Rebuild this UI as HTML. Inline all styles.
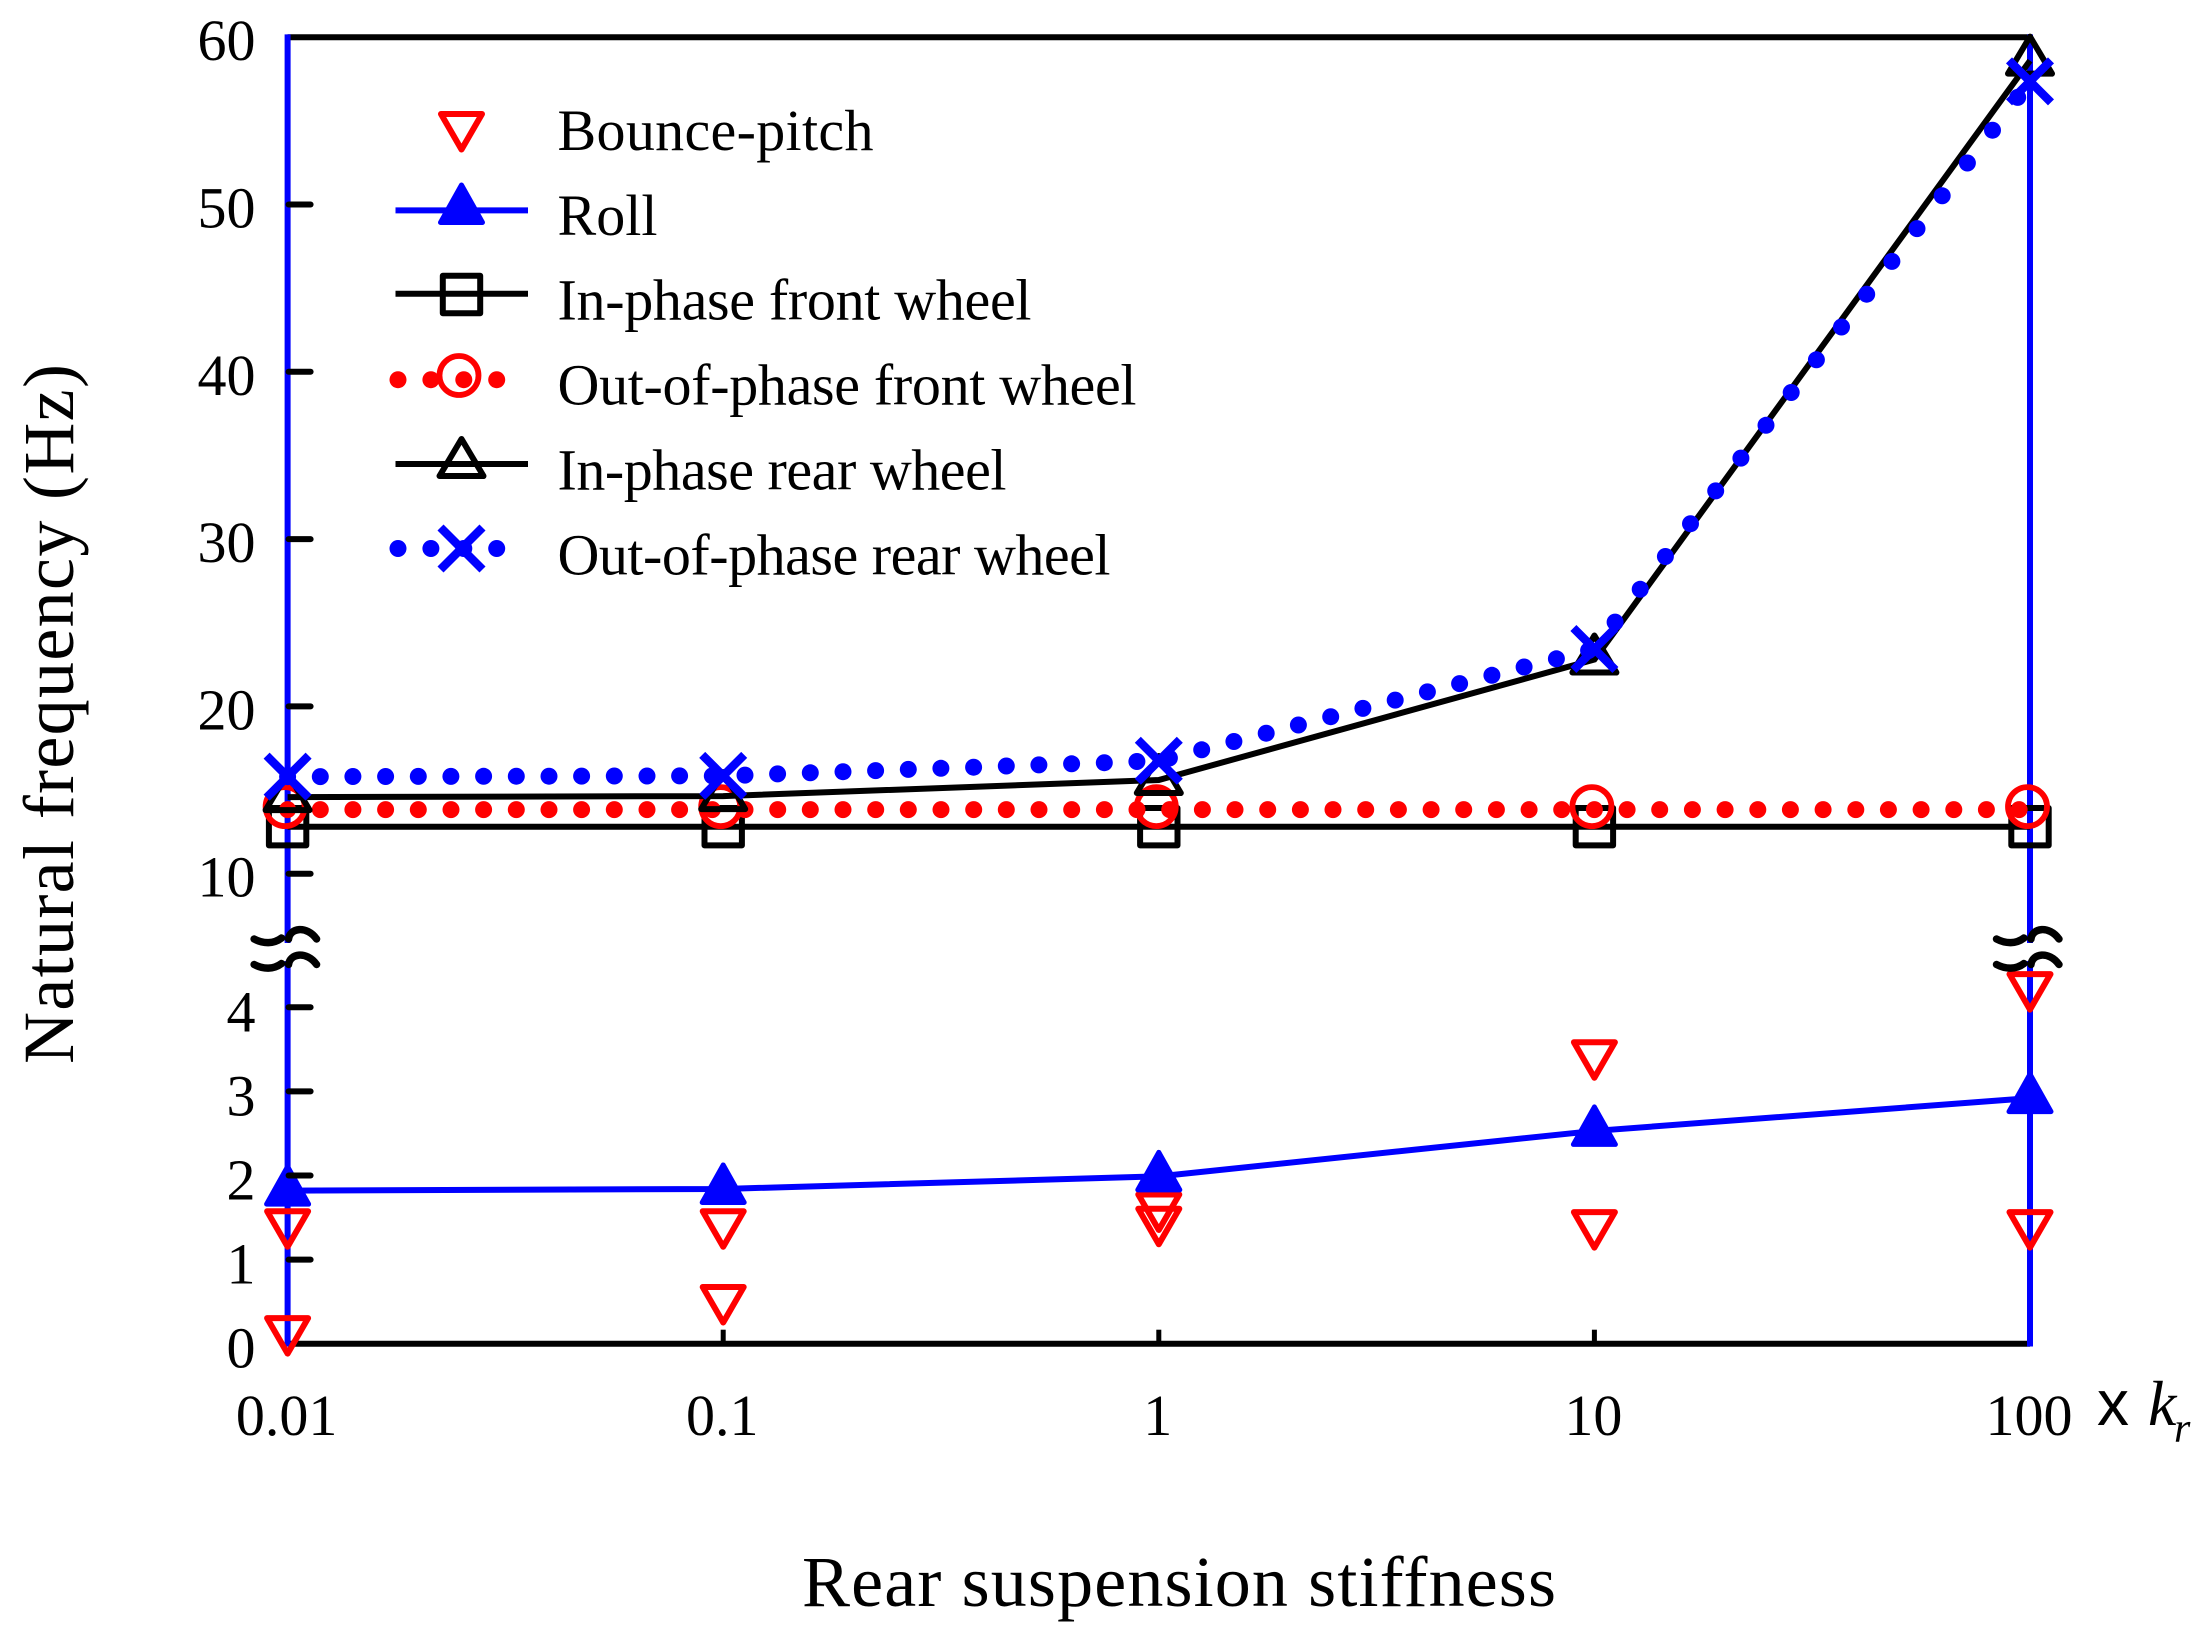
<!DOCTYPE html>
<html lang="en">
<head>
<meta charset="utf-8">
<title>Natural frequency vs rear suspension stiffness</title>
<style>
html,body{margin:0;padding:0;background:#fff;}
svg{display:block;}
text{font-family:"Liberation Serif","DejaVu Serif",serif;fill:#000;}
.tick{font-size:58px;}
.leg{font-size:58px;}
.title{font-size:72px;}
</style>
</head>
<body>
<svg id="chart" xmlns="http://www.w3.org/2000/svg" width="2202" height="1637" viewBox="0 0 2202 1637">
  <rect x="0" y="0" width="2202" height="1637" fill="#fff"/>
  <g id="frame"></g>
  <g id="series"></g>
  <g id="ticks"></g>
  <g id="legend">
    <text class="leg" x="557.5" y="150" textLength="316">Bounce-pitch</text>
    <text class="leg" x="557.5" y="235" textLength="100">Roll</text>
    <text class="leg" x="557.5" y="319.5" textLength="474">In-phase front wheel</text>
    <text class="leg" x="557.5" y="404.5" textLength="579">Out-of-phase front wheel</text>
    <text class="leg" x="557.5" y="489.5" textLength="449">In-phase rear wheel</text>
    <text class="leg" x="557.5" y="574.5" textLength="553">Out-of-phase rear wheel</text>
  </g>
  <text class="title" transform="translate(73,1064) rotate(-90)" textLength="700">Natural frequency (Hz)</text>
  <text class="title" x="802" y="1606" textLength="754">Rear suspension stiffness</text>
  <g>
    <text x="2097" y="1425" style="font-family:'Liberation Sans',sans-serif;font-size:64px;">x</text>
    <text x="2148" y="1425" style="font-size:64px;font-style:italic;">k</text>
    <text x="2174" y="1442" style="font-size:42px;font-style:italic;">r</text>
  </g>
</svg>
<script>
// Chart data
const categories = [0.01, 0.1, 1, 10, 100];
const xTickLabels = ['0.01', '0.1', '1', '10', '100'];
const yTickValues = [0, 1, 2, 3, 4, 10, 20, 30, 40, 50, 60];
const bounceLower = [0.15, 0.52, 1.45, 1.41, 1.41];
const bounceUpper = [1.42, 1.42, 1.62, 3.43, 4.24];
const roll = [1.82, 1.84, 1.99, 2.53, 2.92];
const inPhaseFront = [12.81, 12.81, 12.81, 12.81, 12.81];
const outPhaseFront = [13.83, 13.83, 13.83, 13.83, 13.83];
const inPhaseRear = [14.58, 14.64, 15.6, 22.8, 58.6];
const outPhaseRear = [15.8, 15.85, 16.75, 23.43, 57.36];

const NS = 'http://www.w3.org/2000/svg';
const BLUE = '#0000ff', RED = '#ff0000', BLACK = '#000000';
const LW = 6;
const DOT_STEP = 32.67;
const DOT_STRETCH = 1.574;

function xScale(v) {
  return 287.6 + Math.log10(v / 0.01) * 435.6;
}
function yScale(v) {
  if (v <= 5) return 1343.7 - v * 84.1;
  if (v >= 10) return 873.7 - (v - 10) * 16.73;
  return 923.2 + (873.7 - 923.2) * (v - 5) / 5;
}
function make(tag, attrs, parent) {
  const el = document.createElementNS(NS, tag);
  for (const k in attrs) el.setAttribute(k, attrs[k]);
  parent.appendChild(el);
  return el;
}
function linePath(values) {
  return values.map((v, i) => (i ? 'L' : 'M') + xScale(categories[i]) + ' ' + yScale(v)).join(' ');
}
// The source's dotted pattern is spaced in an anisotropic metric (vertical stretch),
// so dots are walked along the polyline with y compressed by DOT_STRETCH.
function dotPath(values) {
  let d = '';
  let carry = 0;
  for (let i = 0; i < values.length - 1; i++) {
    const x0 = xScale(categories[i]), y0 = yScale(values[i]);
    const x1 = xScale(categories[i + 1]), y1 = yScale(values[i + 1]);
    const len = Math.hypot(x1 - x0, (y1 - y0) / DOT_STRETCH);
    let s = carry;
    while (s <= len) {
      const t = s / len;
      d += 'M' + (x0 + (x1 - x0) * t).toFixed(1) + ' ' + (y0 + (y1 - y0) * t).toFixed(1) + 'h0';
      s += DOT_STEP;
    }
    carry = s - len;
  }
  return d;
}

// Marker drawers
function triDown(cx, cy, parent, name) {
  const el = make('path', {
    d: `M${cx - 20.5} ${cy - 13}H${cx + 20.5}L${cx} ${cy + 22.5}Z`,
    fill: 'none', stroke: RED, 'stroke-width': 6, 'stroke-linejoin': 'round'
  }, parent);
  
  
}
function triUpFilled(cx, cy, parent, name) {
  const el = make('path', {
    d: `M${cx} ${cy - 24}L${cx + 21} ${cy + 13.5}H${cx - 21}Z`,
    fill: BLUE, stroke: BLUE, 'stroke-width': 5, 'stroke-linejoin': 'round'
  }, parent);
  
  
}
function triUp(cx, cy, parent, name) {
  const el = make('path', {
    d: `M${cx} ${cy - 24}L${cx + 22} ${cy + 13}H${cx - 22}Z`,
    fill: 'none', stroke: BLACK, 'stroke-width': LW, 'stroke-linejoin': 'round'
  }, parent);
  
  
}
function square(cx, cy, parent, name) {
  const el = make('rect', {
    x: cx - 18.7, y: cy - 18.7, width: 37.4, height: 37.4,
    fill: 'none', stroke: BLACK, 'stroke-width': LW, 'stroke-linejoin': 'round'
  }, parent);
  
  
}
function circle(cx, cy, parent, name) {
  const el = make('circle', {
    cx: cx - 2.5, cy: cy - 3, r: 19.5,
    fill: 'none', stroke: RED, 'stroke-width': 5.8
  }, parent);
  
  
}
function cross(cx, cy, parent, name) {
  const el = make('path', {
    d: `M${cx - 21} ${cy - 21}L${cx + 21} ${cy + 21}M${cx + 21} ${cy - 21}L${cx - 21} ${cy + 21}`,
    fill: 'none', stroke: BLUE, 'stroke-width': 8.5
  }, parent);
  
  
}

// Frame
const frame = document.getElementById('frame');
const xL = xScale(categories[0]);
const xR = xScale(categories[categories.length - 1]);
const yT = yScale(60);
const yB = yScale(0);

const topAxis = make('line', {x1: xL, y1: yT, x2: xR, y2: yT, stroke: BLACK, 'stroke-width': LW}, frame);



const bottomAxis = make('line', {x1: xL, y1: yB, x2: xR, y2: yB, stroke: BLACK, 'stroke-width': LW}, frame);



const leftAxis = make('line', {x1: xL, y1: yT - 2.8, x2: xL, y2: yB + 2.8, stroke: BLUE, 'stroke-width': 6}, frame);



const rightAxis = make('line', {x1: xR, y1: yT - 2.8, x2: xR, y2: yB + 2.8, stroke: BLUE, 'stroke-width': 6}, frame);



// Ticks and tick labels
const ticks = document.getElementById('ticks');
yTickValues.forEach((v) => {
  const y = yScale(v);
  if (v !== 0 && v !== 60) {
    const t = make('line', {x1: xL + 1, y1: y, x2: xL + 23, y2: y, stroke: BLACK, 'stroke-width': LW, 'stroke-linecap': 'round'}, ticks);
    
    
  }
  const label = make('text', {x: 255.5, y: y + (v >= 10 ? 23 : 24), 'text-anchor': 'end', class: 'tick'}, ticks);
  label.textContent = String(v);
  
  
});
categories.forEach((c, i) => {
  const x = xScale(c);
  if (i > 0 && i < categories.length - 1) {
    const t = make('line', {x1: x, y1: yB, x2: x, y2: yB - 14, stroke: BLACK, 'stroke-width': 5}, ticks);
    
    
  }
  const label = make('text', {x: x - 1, y: 1435, 'text-anchor': 'middle', class: 'tick'}, ticks);
  label.textContent = xTickLabels[i];
  
  
});

// Axis break marks
function axisBreak(cx, name) {
  const g = make('g', {}, ticks);
  
  
  const gap = make('rect', {x: cx - 5, y: 943, width: 10, height: 18, fill: '#fff'}, g);
  
  
  [0, 25.5].forEach((dy, k) => {
    const y0 = 939 + dy;
    const p = make('path', {
      d: `M${cx - 33.5} ${y0}C${cx - 24} ${y0 + 5} ${cx - 14} ${y0 + 5} ${cx - 6} ${y0 - 1}` +
         `M${cx + 1} ${y0}C${cx + 2} ${y0 - 11} ${cx + 19} ${y0 - 14} ${cx + 29} ${y0}`,
      fill: 'none', stroke: BLACK, 'stroke-width': 7.4, 'stroke-linecap': 'round'
    }, g);
    
    
  });
}
axisBreak(xL, 'y-axis-break');
axisBreak(xR, 'right-axis-break');

// Series
const series = document.getElementById('series');

function seriesGroup(name) {
  const g = make('g', {}, series);
  
  
  return g;
}

const gFront = seriesGroup('series-in-phase-front-wheel');
const frontLine = make('path', {d: linePath(inPhaseFront), fill: 'none', stroke: BLACK, 'stroke-width': LW}, gFront);


inPhaseFront.forEach((v, i) => square(xScale(categories[i]), yScale(v), gFront, 'in-phase-front-marker-' + xTickLabels[i]));

const gBounce = seriesGroup('series-bounce-pitch');
bounceLower.forEach((v, i) => triDown(xScale(categories[i]), yScale(v), gBounce, 'bounce-pitch-lower-marker-' + xTickLabels[i]));
bounceUpper.forEach((v, i) => triDown(xScale(categories[i]), yScale(v), gBounce, 'bounce-pitch-upper-marker-' + xTickLabels[i]));

const gRoll = seriesGroup('series-roll');
const rollLine = make('path', {d: linePath(roll), fill: 'none', stroke: BLUE, 'stroke-width': 6}, gRoll);


roll.forEach((v, i) => triUpFilled(xScale(categories[i]), yScale(v), gRoll, 'roll-marker-' + xTickLabels[i]));

const gOutFront = seriesGroup('series-out-of-phase-front-wheel');
const outFrontLine = make('path', {d: dotPath(outPhaseFront), fill: 'none', stroke: RED, 'stroke-width': 17, 'stroke-linecap': 'round'}, gOutFront);


outPhaseFront.forEach((v, i) => circle(xScale(categories[i]), yScale(v), gOutFront, 'out-of-phase-front-marker-' + xTickLabels[i]));

const gRear = seriesGroup('series-in-phase-rear-wheel');
const rearLine = make('path', {d: linePath(inPhaseRear), fill: 'none', stroke: BLACK, 'stroke-width': LW}, gRear);


inPhaseRear.forEach((v, i) => triUp(xScale(categories[i]), yScale(v), gRear, 'in-phase-rear-marker-' + xTickLabels[i]));

const gOutRear = seriesGroup('series-out-of-phase-rear-wheel');
const outRearLine = make('path', {d: dotPath(outPhaseRear), fill: 'none', stroke: BLUE, 'stroke-width': 17, 'stroke-linecap': 'round'}, gOutRear);


outPhaseRear.forEach((v, i) => cross(xScale(categories[i]), yScale(v), gOutRear, 'out-of-phase-rear-marker-' + xTickLabels[i]));

// Legend keys
const legend = document.getElementById('legend');
const keyX = 461.5;

function keyLine(y, color, name) {
  const l = make('line', {x1: 395.5, y1: y, x2: 528, y2: y, stroke: color, 'stroke-width': LW}, legend);
  
  
}
function keyDots(y, color, name) {
  const l = make('line', {x1: 398, y1: y, x2: 497, y2: y, stroke: color, 'stroke-width': 17, 'stroke-linecap': 'round', 'stroke-dasharray': '0 32.9'}, legend);
  
  
}
triDown(keyX, 127, legend, 'legend-key-bounce-pitch');
keyLine(210.4, BLUE, 'legend-line-roll');
triUpFilled(keyX, 209, legend, 'legend-key-roll');
keyLine(293.8, BLACK, 'legend-line-in-phase-front');
square(keyX, 294.5, legend, 'legend-key-in-phase-front');
keyDots(379.7, RED, 'legend-dots-out-of-phase-front');
circle(keyX, 378.5, legend, 'legend-key-out-of-phase-front');
keyLine(464, BLACK, 'legend-line-in-phase-rear');
triUp(keyX, 463, legend, 'legend-key-in-phase-rear');
keyDots(548.5, BLUE, 'legend-dots-out-of-phase-rear');
cross(keyX, 548.5, legend, 'legend-key-out-of-phase-rear');
</script>
</body>
</html>
